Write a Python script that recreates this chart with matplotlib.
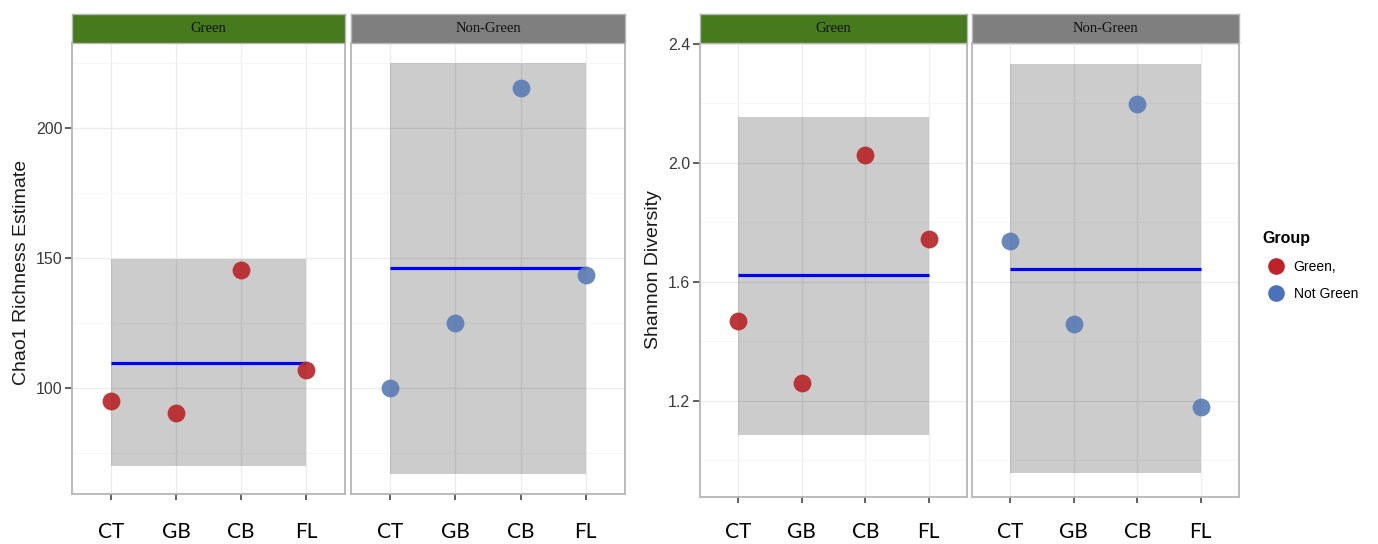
import numpy as np
import matplotlib.pyplot as plt
from matplotlib.patches import Rectangle
from matplotlib.lines import Line2D

W, H = 1378, 544

sites = ["CT", "GB", "CB", "FL"]
facets = ["Green", "Non-Green"]

# Chao1 richness per site
chao_green = [95, 90.5, 145.5, 107]
chao_nongreen = [100, 125, 215.5, 143.5]
chao_band_green = [70, 149.5]
chao_band_nongreen = [67, 225]

# Shannon diversity per site
shannon_green = [1.467, 1.26, 2.027, 1.743]
shannon_nongreen = [1.737, 1.457, 2.197, 1.18]
shannon_band_green = [1.087, 2.153]
shannon_band_nongreen = [0.957, 2.333]

group_labels = ["Green,", "Not Green"]

RED = "#b8262a"
BLUE = "#5b7db6"
STRIP = {"Green": "#467a1c", "Non-Green": "#7f7f7f"}
TICKCOL = "#3a3a3a"


def px_axes(fig, x0, x1, y0, y1):
    return fig.add_axes([x0 / W, 1 - y1 / H, (x1 - x0) / W, (y1 - y0) / H])


def panel(fig, box, vals, band, color, ylim, yticks, yminor, title, show_y, xpad):
    x0, x1, y0, y1 = box
    ax = px_axes(fig, x0, x1, y0, y1)
    x = np.arange(1, len(sites) + 1)
    ax.set_xlim(0.4, len(sites) + 0.6)
    ax.set_ylim(*ylim)
    for xv in x:
        ax.axvline(xv, color="#ececec", lw=0.9, zorder=0)
    for yv in yticks:
        ax.axhline(yv, color="#ececec", lw=0.9, zorder=0)
    for yv in yminor:
        ax.axhline(yv, color="#f5f5f5", lw=0.7, zorder=0)
    ax.add_patch(Rectangle((x[0], band[0]), x[-1] - x[0], band[1] - band[0],
                           facecolor="black", alpha=0.2, lw=0, zorder=1))
    ax.plot([x[0], x[-1]], [np.mean(vals)] * 2, color="#0000ff", lw=2.3,
            zorder=2, solid_capstyle="butt")
    ax.scatter(x, vals, s=165, color=color, alpha=0.92, lw=0, zorder=3)
    for s in ax.spines.values():
        s.set_color("#b5b5b5")
        s.set_linewidth(1.3)
    ax.set_xticks(x)
    ax.set_xticklabels(sites, fontfamily="Lato", fontsize=15, color="black")
    ax.tick_params(axis="x", length=4, width=1.2, color="#444444", pad=xpad)
    ax.set_yticks(yticks)
    if show_y:
        ax.set_yticklabels([str(t) for t in yticks], fontfamily="Liberation Sans",
                           fontsize=11.5, color=TICKCOL)
        ax.tick_params(axis="y", length=5, width=1.2, color="#444444", pad=2)
    else:
        ax.tick_params(axis="y", length=0, labelleft=False)

    # facet strip
    st = px_axes(fig, x0, x1, 14, y0)
    st.set_facecolor(STRIP[title])
    st.set_xticks([])
    st.set_yticks([])
    for s in st.spines.values():
        s.set_color("#b5b5b5")
        s.set_linewidth(1.0)
    st.text(0.5, 0.5, title, ha="center", va="center", fontsize=10.5,
            fontfamily="Liberation Serif", color="#111111")
    return ax


fig = plt.figure(figsize=(W / 100, H / 100), dpi=100)

chao_ylim = (59.2, 232.7)
chao_ticks = [100, 150, 200]
chao_minor = [75, 125, 175, 225]
panel(fig, (72, 345, 43, 494), chao_green, chao_band_green, RED,
      chao_ylim, chao_ticks, chao_minor, "Green", True, 16)
panel(fig, (351, 625, 43, 494), chao_nongreen, chao_band_nongreen, BLUE,
      chao_ylim, chao_ticks, chao_minor, "Non-Green", False, 16)
fig.text(22 / W, 1 - 272 / H, "Chao1 Richness Estimate", rotation=90,
         ha="center", va="center", fontsize=14, fontfamily="Liberation Sans",
         color="#1a1a1a")

sh_ylim = (0.877, 2.403)
sh_ticks = [1.2, 1.6, 2.0, 2.4]
sh_minor = [1.0, 1.4, 1.8, 2.2]
panel(fig, (700, 967, 43, 497), shannon_green, shannon_band_green, RED,
      sh_ylim, sh_ticks, sh_minor, "Green", True, 14)
panel(fig, (972, 1239, 43, 497), shannon_nongreen, shannon_band_nongreen, BLUE,
      sh_ylim, sh_ticks, sh_minor, "Non-Green", False, 14)
fig.text(654 / W, 1 - 270 / H, "Shannon Diversity", rotation=90,
         ha="center", va="center", fontsize=14, fontfamily="Liberation Sans",
         color="#1a1a1a")

handles = [Line2D([], [], ls="", marker="o", ms=12, color=c, mew=0)
           for c in ["#c0222a", "#4a72b8"]]
leg = fig.legend(handles, group_labels, title="Group", loc="upper left",
                 bbox_to_anchor=(1250 / W, 1 - 219 / H), frameon=False,
                 fontsize=11, labelspacing=0.95, handlelength=1.9,
                 handletextpad=0.35, alignment="left",
                 title_fontproperties={"weight": "bold", "size": 11.5,
                                       "family": "Liberation Sans"},
                 prop={"family": "Liberation Sans"})

fig.savefig("out.png", dpi=100)
